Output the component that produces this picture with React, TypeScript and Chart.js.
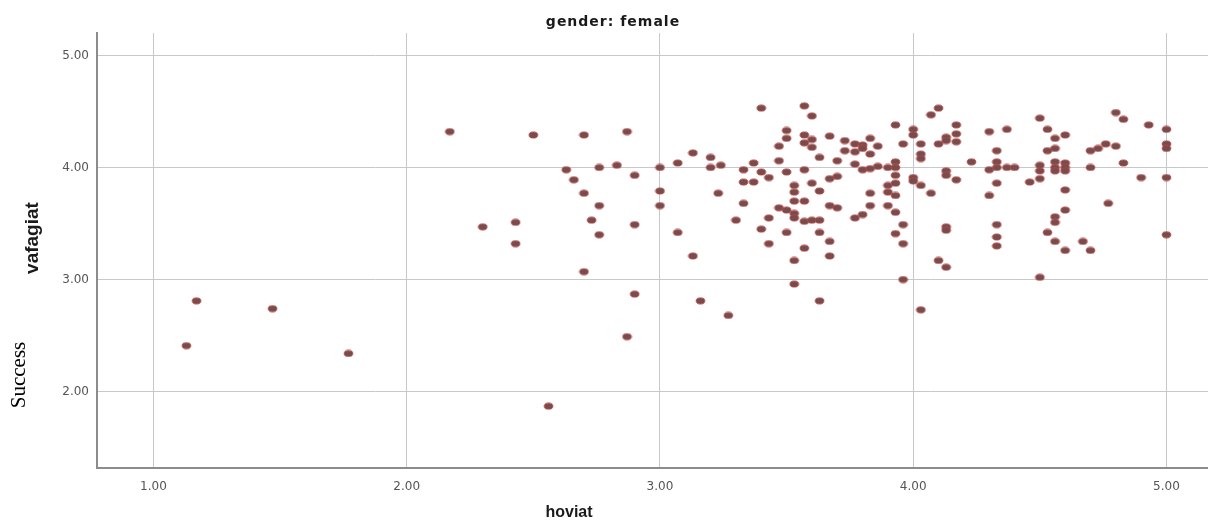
import React, { useEffect, useRef } from "react";
import { Chart, registerables } from "chart.js";

Chart.register(...registerables);

const chartTitle = "gender: female";
const xTitle = "hoviat";
const yTitle = "vafagiat";
const sideLabel = "Success";

const xTickValues = [1, 2, 3, 4, 5];
const yTickValues = [2, 3, 4, 5];

const hoviat = [
  1.13, 1.17, 1.47, 1.77, 2.17, 2.3, 2.43, 2.43, 2.5, 2.56,
  2.63, 2.66, 2.7, 2.7, 2.7, 2.73, 2.76, 2.76, 2.76, 2.83,
  2.87, 2.87, 2.9, 2.9, 2.9, 3.0, 3.0, 3.0, 3.07, 3.07,
  3.13, 3.13, 3.16, 3.2, 3.2, 3.24, 3.23, 3.27, 3.3, 3.33,
  3.33, 3.37, 3.33, 3.37, 3.4, 3.4, 3.4, 3.43, 3.43, 3.43,
  3.47, 3.47, 3.47, 3.5, 3.5, 3.5, 3.5, 3.5, 3.53, 3.53,
  3.53, 3.53, 3.53, 3.53, 3.53, 3.57, 3.57, 3.57, 3.57, 3.57,
  3.57, 3.57, 3.6, 3.6, 3.6, 3.6, 3.6, 3.63, 3.63, 3.63,
  3.63, 3.63, 3.67, 3.67, 3.67, 3.67, 3.67, 3.7, 3.7, 3.7,
  3.73, 3.73, 3.77, 3.77, 3.77, 3.77, 3.8, 3.8, 3.8, 3.8,
  3.83, 3.83, 3.83, 3.83, 3.83, 3.86, 3.86, 3.9, 3.9, 3.9,
  3.9, 3.93, 3.93, 3.93, 3.93, 3.93, 3.93, 3.93, 3.93, 3.96,
  3.96, 3.96, 3.96, 4.0, 4.0, 4.0, 4.0, 4.03, 4.03, 4.03,
  4.03, 4.03, 4.07, 4.07, 4.1, 4.1, 4.1, 4.13, 4.13, 4.13,
  4.13, 4.13, 4.13, 4.13, 4.17, 4.17, 4.17, 4.17, 4.23, 4.3,
  4.3, 4.3, 4.33, 4.33, 4.33, 4.33, 4.33, 4.33, 4.33, 4.37,
  4.37, 4.4, 4.46, 4.5, 4.5, 4.5, 4.5, 4.5, 4.53, 4.53,
  4.53, 4.56, 4.56, 4.56, 4.56, 4.56, 4.56, 4.56, 4.56, 4.6,
  4.6, 4.6, 4.6, 4.6, 4.6, 4.6, 4.67, 4.7, 4.7, 4.7,
  4.73, 4.76, 4.77, 4.8, 4.8, 4.83, 4.83, 4.9, 4.93, 5.0,
  5.0, 5.0, 5.0, 5.0
];

const vafagiat = [
  2.41, 2.81, 2.74, 2.34, 4.32, 3.47, 3.51, 3.32, 4.29, 1.87,
  3.98, 3.89, 4.29, 3.77, 3.07, 3.53, 4.0, 3.66, 3.4, 4.02,
  4.32, 2.49, 3.93, 3.49, 2.87, 4.0, 3.79, 3.66, 4.04, 3.42,
  4.13, 3.21, 2.81, 4.09, 4.0, 4.02, 3.77, 2.68, 3.53, 3.98,
  3.87, 3.87, 3.68, 4.04, 4.53, 3.96, 3.45, 3.91, 3.55, 3.32,
  4.19, 4.06, 3.64, 4.33, 4.26, 3.96, 3.62, 3.42, 3.84, 3.78,
  3.7, 3.59, 3.55, 3.17, 2.96, 4.55, 4.29, 4.22, 3.98, 3.7,
  3.52, 3.28, 4.46, 4.25, 4.18, 3.86, 3.53, 4.09, 3.79, 3.53,
  3.42, 2.81, 4.28, 3.9, 3.66, 3.34, 3.21, 4.06, 3.92, 3.64,
  4.24, 4.15, 4.21, 4.14, 4.03, 3.55, 4.2, 4.17, 3.98, 3.58,
  4.26, 4.12, 3.99, 3.77, 3.66, 4.19, 4.01, 4.0, 3.84, 3.78,
  3.66, 4.38, 4.05, 4.0, 3.93, 3.86, 3.75, 3.6, 3.41, 4.21,
  3.49, 3.32, 3.0, 4.34, 4.29, 3.91, 3.88, 4.21, 4.12, 4.08,
  3.84, 2.73, 4.47, 3.77, 4.53, 4.21, 3.17, 4.27, 4.24, 3.97,
  3.93, 3.47, 3.44, 3.11, 4.38, 4.3, 4.23, 3.89, 4.05, 4.32,
  3.98, 3.75, 4.15, 4.05, 4.0, 3.86, 3.49, 3.38, 3.3, 4.34,
  4.0, 4.0, 3.87, 4.44, 4.02, 3.97, 3.9, 3.02, 4.34, 4.15,
  3.42, 4.26, 4.17, 4.05, 4.0, 3.97, 3.56, 3.51, 3.34, 4.29,
  4.04, 4.0, 3.97, 3.8, 3.62, 3.26, 3.34, 4.15, 4.0, 3.26,
  4.17, 4.21, 3.68, 4.49, 4.19, 4.43, 4.04, 3.91, 4.38, 4.34,
  4.21, 4.17, 3.91, 3.4
];

function makeMarker(): HTMLCanvasElement {
  const c = document.createElement("canvas");
  c.width = 11;
  c.height = 8;
  const ctx = c.getContext("2d")!;
  ctx.beginPath();
  ctx.ellipse(5.5, 4, 4.4, 3.1, 0, 0, Math.PI * 2);
  ctx.fillStyle = "rgb(118,76,76)";
  ctx.fill();
  ctx.lineWidth = 1;
  ctx.strokeStyle = "rgba(190,70,70,0.85)";
  ctx.stroke();
  return c;
}

const textPlugin = {
  id: "spssTexts",
  afterDraw(chart: any) {
    const ctx = chart.ctx as CanvasRenderingContext2D;
    const area = chart.chartArea;
    ctx.save();
    ctx.fillStyle = "#1a1a1a";
    ctx.textAlign = "center";
    ctx.textBaseline = "middle";
    // title
    ctx.font = "bold 14px 'DejaVu Sans'";
    (ctx as any).letterSpacing = "1px";
    ctx.fillText(chartTitle, 613, 22);
    (ctx as any).letterSpacing = "0px";
    // x title
    ctx.font = "bold 16px 'Liberation Sans'";
    ctx.fillText(xTitle, 569, area.bottom + 45);
    // y title
    ctx.save();
    ctx.translate(33, 238);
    ctx.rotate(-Math.PI / 2);
    ctx.font = "bold 19px 'Liberation Sans'";
    ctx.fillText(yTitle, 0, 0);
    ctx.restore();
    // side label
    ctx.save();
    ctx.translate(19, 375);
    ctx.rotate(-Math.PI / 2);
    ctx.fillStyle = "#000";
    ctx.font = "21px 'Liberation Serif'";
    ctx.fillText(sideLabel, 0, 0);
    ctx.restore();
    ctx.restore();
  },
};

export default function App() {
  const ref = useRef<HTMLCanvasElement | null>(null);
  useEffect(() => {
    if (!ref.current) return;
    const marker = makeMarker();
    const points = hoviat.map((x, i) => ({ x, y: vafagiat[i] }));
    const chart = new Chart(ref.current, {
      type: "scatter",
      data: {
        datasets: [
          {
            data: points,
            pointStyle: marker as any,
            pointRadius: 5,
            backgroundColor: "rgb(118,76,76)",
            borderColor: "rgb(190,70,70)",
          },
        ],
      },
      options: {
        animation: false,
        responsive: false,
        layout: { autoPadding: false, padding: { top: 33, right: 0, left: 0, bottom: 0 } },
        plugins: { legend: { display: false }, tooltip: { enabled: false }, title: { display: false } },
        scales: {
          x: {
            type: "linear",
            min: 0.777,
            max: 5.164,
            grid: { color: "#c8c8c8", lineWidth: 1, drawTicks: false },
            border: { color: "#8c8c8c", width: 2 },
            ticks: {
              padding: 12,
              color: "#555",
              font: { family: "'DejaVu Sans'", size: 12 },
              callback: (v: any) => Number(v).toFixed(2),
            },
            afterBuildTicks: (s: any) => {
              s.ticks = xTickValues.map((v) => ({ value: v }));
            },
            afterFit: (s: any) => {
              s.height = 54;
              s.paddingLeft = 0;
              s.paddingRight = 0;
            },
          },
          y: {
            type: "linear",
            min: 1.318,
            max: 5.2,
            grid: { color: "#c8c8c8", lineWidth: 1, drawTicks: false },
            border: { color: "#8c8c8c", width: 2 },
            ticks: {
              padding: 8,
              color: "#555",
              font: { family: "'DejaVu Sans'", size: 12 },
              callback: (v: any) => Number(v).toFixed(2),
            },
            afterBuildTicks: (s: any) => {
              s.ticks = yTickValues.map((v) => ({ value: v }));
            },
            afterFit: (s: any) => {
              s.width = 97;
              s.paddingTop = 0;
              s.paddingBottom = 0;
            },
          },
        },
      },
      plugins: [textPlugin],
    });
    return () => chart.destroy();
  }, []);
  return (
    <div style={{ position: "absolute", left: 0, top: 0, width: 1208, height: 522, background: "#fff" }}>
      <canvas ref={ref} width={1208} height={522} style={{ display: "block" }} />
    </div>
  );
}
